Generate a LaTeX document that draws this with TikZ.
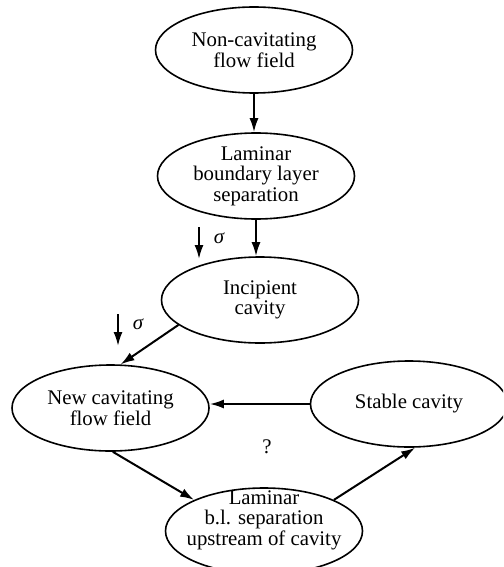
\documentclass[tikz,border=0pt]{standalone}
\usepackage{fontspec}
\setmainfont{Liberation Serif}
\usetikzlibrary{shapes.geometric,arrows.meta}
\begin{document}
\begin{tikzpicture}[x=1pt,y=-1pt,
  state/.style={draw,ellipse,line width=1.6pt,minimum width=197pt,minimum height=86pt,inner sep=0pt,align=center,font=\fontsize{20.8}{20.5}\selectfont},
  flow/.style={line width=2pt,-{Latex[length=14pt,width=9pt]}},
  txt/.style={align=center,inner sep=0pt,font=\fontsize{20.8}{20.5}\selectfont}]
\useasboundingbox (0,0) rectangle (503,567);
\clip (0,0) rectangle (503,567);
\node[state] (nc) at (254,50) {Non-cavitating\\flow field};
\node[state] (lam) at (256,176) {Laminar\\boundary layer\\separation};
\node[state] (inc) at (260,300) {Incipient\\cavity};
\node[state] (new) at (110.5,408) {New cavitating\\flow field};
\node[state] (sta) at (409,404) {Stable cavity};
\node[state] (lb) at (264,531) {};
\node[txt] (lbt) at (264,520) {Laminar\\b.l. separation\\upstream of cavity};
\node[txt] (q) at (267,447) {?};
\draw[flow] (nc.south) -- (nc.south |- lam.north);
\draw[flow] (lam.south) -- (lam.south |- inc.north);
\draw[flow] (inc.197) -- (new.77);
\draw[flow] (sta.west) -- (sta.west -| new.east);
\draw[flow] (new.273) -- (lb.156);
\draw[flow] (lb.24) -- (sta.278);
\coordinate (s1a) at (199,227);
\coordinate (s1b) at (199,259);
\draw[flow] (s1a) -- (s1b);
\node[txt] (s1) at (219,238) {\itshape σ};
\coordinate (s2a) at (118,314);
\coordinate (s2b) at (118,346);
\draw[flow] (s2a) -- (s2b);
\node[txt] (s2) at (138,324) {\itshape σ};
\end{tikzpicture}
\end{document}
